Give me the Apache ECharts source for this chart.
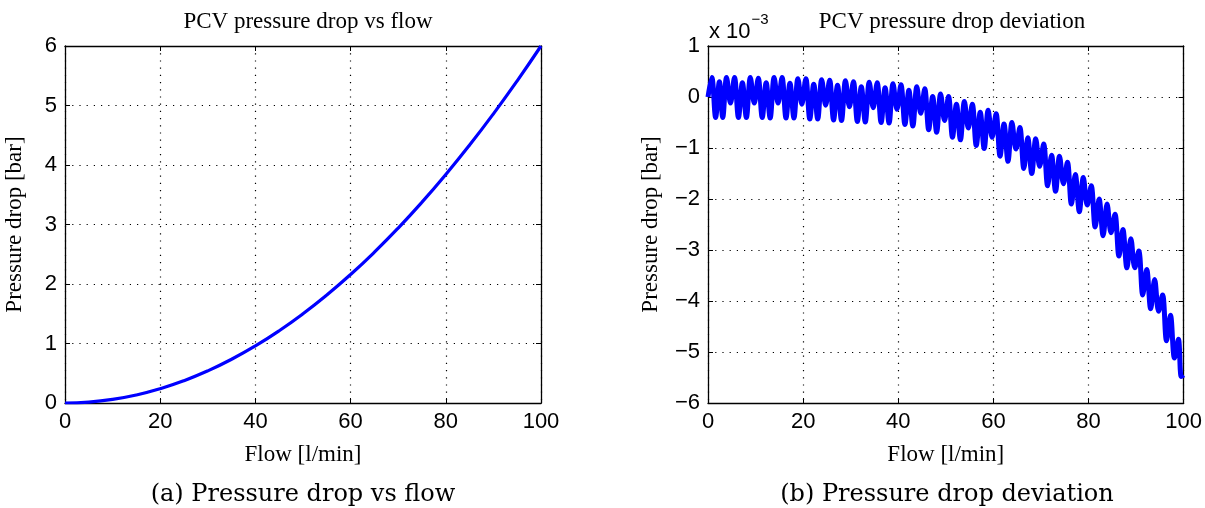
<!DOCTYPE html>
<html><head><meta charset="utf-8">
<script src="https://cdn.jsdelivr.net/npm/echarts@6/dist/echarts.min.js"></script>
<style>html,body{margin:0;padding:0;background:#fff}#c{width:1205px;height:508px}</style>
</head><body><div id="c"></div>
<script>
// Left chart: pressure drop vs flow
const flowA = [0,5,10,15,20,25,30,35,40,45,50,55,60,65,70,75,80,85,90,95,100];
const dropA = [0,0.015,0.06,0.135,0.24,0.375,0.54,0.735,0.96,1.215,1.5,1.815,2.16,2.535,2.94,3.375,3.84,4.335,4.86,5.415,6.0];
// Right chart: pressure drop deviation (x 10^-3)
const flowB = [0,0.8,1.6,2.4,3.1,
 3.9,4.73,5.57,6.4,7.23,8.07,
 8.9,9.73,10.57,11.4,12.23,13.07,
 13.9,14.73,15.57,16.4,17.23,18.07,
 18.9,19.73,20.57,21.4,22.23,23.07,
 23.9,24.73,25.57,26.4,27.23,28.07,
 28.9,29.73,30.57,31.4,32.23,33.07,
 33.9,34.73,35.57,36.4,37.23,38.07,
 38.9,39.73,40.57,41.4,42.23,43.07,
 43.9,44.73,45.57,46.4,47.23,48.07,
 48.9,49.73,50.57,51.4,52.23,53.07,
 53.9,54.73,55.57,56.4,57.23,58.07,
 58.9,59.73,60.57,61.4,62.23,63.07,
 63.9,64.73,65.57,66.4,67.23,68.07,
 68.9,69.73,70.57,71.4,72.23,73.07,
 73.9,74.73,75.57,76.4,77.23,78.07,
 78.9,79.73,80.57,81.4,82.23,83.07,
 83.9,84.73,85.57,86.4,87.23,88.07,
 88.9,89.73,90.57,91.4,92.23,93.07,
 93.9,94.73,95.57,96.4,97.23,98.07,
 98.9,99.5,100];
const devB = [0,0.38,-0.4,0.3,-0.4,
 0.38,-0.12,0.38,-0.4,0.28,-0.4,
 0.38,-0.12,0.37,-0.4,0.28,-0.41,
 0.38,-0.12,0.38,-0.41,0.27,-0.41,
 0.36,-0.14,0.36,-0.43,0.25,-0.43,
 0.34,-0.16,0.33,-0.45,0.23,-0.46,
 0.32,-0.19,0.30,-0.48,0.20,-0.49,
 0.29,-0.21,0.28,-0.50,0.18,-0.51,
 0.26,-0.24,0.24,-0.54,0.13,-0.57,
 0.20,-0.32,0.16,-0.64,0.01,-0.69,
 0.06,-0.46,0.01,-0.79,-0.14,-0.84,
 -0.09,-0.61,-0.14,-0.95,-0.30,-1.01,
 -0.26,-0.79,-0.33,-1.16,-0.53,-1.26,
 -0.50,-1.02,-0.60,-1.40,-0.80,-1.50,
 -0.82,-1.36,-0.92,-1.74,-1.14,-1.85,
 -1.16,-1.70,-1.28,-2.10,-1.52,-2.25,
 -1.58,-2.12,-1.74,-2.55,-2.00,-2.72,
 -2.10,-2.66,-2.30,-3.12,-2.60,-3.35,
 -2.78,-3.35,-3.02,-3.88,-3.38,-4.15,
 -3.58,-4.20,-3.88,-4.78,-4.28,-5.12,
 -4.75,-5.48,-5.45];
const xTicks = {min:0, max:100, interval:20};
const yTicksA = {min:0, max:6, interval:1};
const yTicksB = {min:-6, max:1, interval:1};

const SANS = 'Liberation Sans, Arial, sans-serif';
const SERIF = 'Liberation Serif, Times New Roman, serif';
const CAP = 'DejaVu Serif, serif';
const tickFont = {fontFamily: SANS, fontSize: 22, color: '#000'};
const fmt = v => v < 0 ? '\u2212' + (-v) : String(v);
const grid = (left, right) => ({left, right, top: 46, bottom: 105, containLabel: false});
const axisLine = {show: true, onZero: false, lineStyle: {color: '#000', width: 1.3}};
const tick = {show: true, inside: true, length: 5, lineStyle: {color: '#000'}};
const split = {show: true, lineStyle: {color: '#000', width: 1.2, type: [1.2, 6]}};

function xAxes(gi) {
  return [
    Object.assign({type: 'value', gridIndex: gi, position: 'bottom', axisLine, axisTick: tick,
      splitLine: split, axisLabel: Object.assign({margin: 8, formatter: fmt}, tickFont),
      name: 'Flow [l/min]', nameLocation: 'middle', nameGap: 40,
      nameTextStyle: {fontFamily: SERIF, fontSize: 23, color: '#000'}}, xTicks),
    Object.assign({type: 'value', gridIndex: gi, position: 'top', axisLine, axisTick: tick,
      splitLine: {show: false}, axisLabel: {show: false}}, xTicks)
  ];
}
function yAxes(gi, t, gap) {
  return [
    Object.assign({type: 'value', gridIndex: gi, position: 'left', axisLine, axisTick: tick,
      splitLine: split, axisLabel: Object.assign({margin: 8, formatter: fmt}, tickFont),
      name: 'Pressure drop [bar]', nameLocation: 'middle', nameGap: gap, nameRotate: 90,
      nameTextStyle: {fontFamily: SERIF, fontSize: 23, color: '#000'}}, t),
    Object.assign({type: 'value', gridIndex: gi, position: 'right', axisLine, axisTick: tick,
      splitLine: {show: false}, axisLabel: {show: false}}, t)
  ];
}

const chart = echarts.init(document.getElementById('c'), null, {renderer: 'canvas'});
chart.setOption({
  animation: false,
  backgroundColor: '#fff',
  grid: [grid(65, 664), grid(708, 20)],
  xAxis: [...xAxes(0), ...xAxes(1)],
  yAxis: [...yAxes(0, yTicksA, 39), ...yAxes(1, yTicksB, 46)],
  title: [
    {text: 'PCV pressure drop vs flow', left: 303, top: 5, textAlign: 'center',
     textStyle: {fontFamily: SERIF, fontSize: 23, fontWeight: 'normal', color: '#000'}},
    {text: 'PCV pressure drop deviation', left: 947, top: 5, textAlign: 'center',
     textStyle: {fontFamily: SERIF, fontSize: 23, fontWeight: 'normal', color: '#000'}}
  ],
  graphic: [
    {type: 'text', left: 709, top: 12, style: {
      text: '{a|x 10}{b|\u22123}', rich: {
        a: {fontFamily: SANS, fontSize: 22, color: '#000', verticalAlign: 'bottom'},
        b: {fontFamily: SANS, fontSize: 15, color: '#000', padding: [0, 0, 16, 1]}}}},
    {type: 'text', x: 303, y: 495, style: {text: '(a) Pressure drop vs flow', fontFamily: CAP, fontSize: 24, fill: '#000', align: 'center', verticalAlign: 'middle'}},
    {type: 'text', x: 947, y: 495, style: {text: '(b) Pressure drop deviation', fontFamily: CAP, fontSize: 24, fill: '#000', align: 'center', verticalAlign: 'middle'}}
  ],
  series: [
    {type: 'line', xAxisIndex: 0, yAxisIndex: 0, showSymbol: false, smooth: true,
     lineStyle: {color: '#0000ff', width: 3.2}, data: flowA.map((x, i) => [x, dropA[i]])},
    {type: 'line', xAxisIndex: 2, yAxisIndex: 2, showSymbol: false, smooth: 0.35,
     lineStyle: {color: '#0000ff', width: 5}, data: flowB.map((x, i) => [x, devB[i]])}
  ]
});
</script></body></html>
